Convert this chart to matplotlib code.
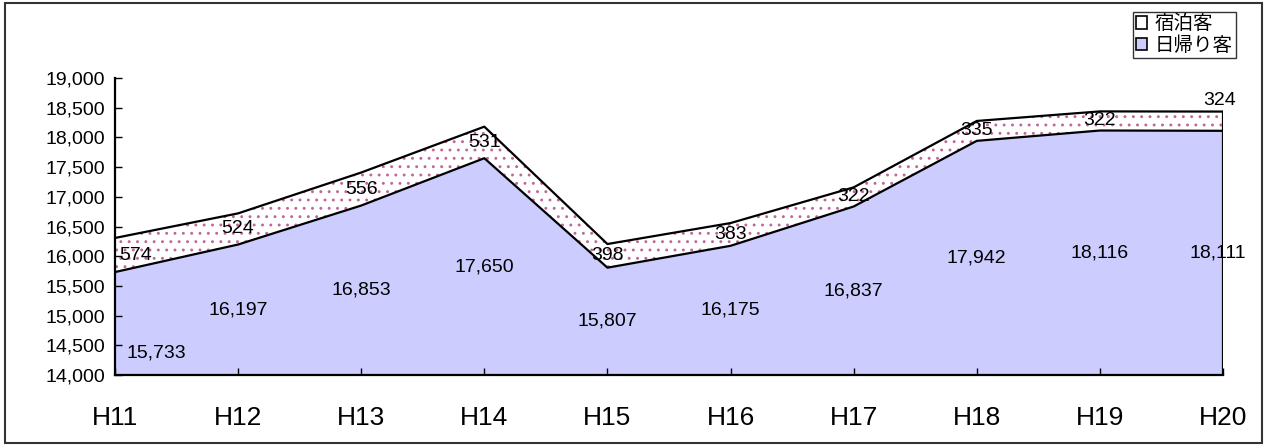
import matplotlib

matplotlib.use("Agg")
import matplotlib.pyplot as plt
from matplotlib.patches import Patch, Rectangle

plt.rcParams["font.family"] = ["Liberation Sans", "Noto Sans CJK JP", "DejaVu Sans"]
plt.rcParams["hatch.linewidth"] = 0.9

# 観光客数 (千人)
years = ["H11", "H12", "H13", "H14", "H15", "H16", "H17", "H18", "H19", "H20"]
day_trip = [15733, 16197, 16853, 17650, 15807, 16175, 16837, 17942, 18116, 18111]
overnight = [574, 524, 556, 531, 398, 383, 322, 335, 322, 324]
y_ticks = [14000, 14500, 15000, 15500, 16000, 16500, 17000, 17500, 18000, 18500, 19000]

y_min, y_max = 14000, 19000
x = list(range(len(years)))
total = [d + o for d, o in zip(day_trip, overnight)]

fig = plt.figure(figsize=(12.65, 4.45), dpi=100)
ax = fig.add_axes([0.0909, 0.1573, 0.8759, 0.6674])

# areas
ax.fill_between(x, y_min, day_trip, facecolor="#ccccff", edgecolor="none", zorder=1)
ax.fill_between(x, day_trip, total, facecolor="white", edgecolor="#c0679a",
                hatch="..", linewidth=0, zorder=1)
ax.plot(x, day_trip, color="black", lw=1.6, zorder=3)
ax.plot(x, total, color="black", lw=1.6, zorder=3)
ax.plot([x[-1], x[-1]], [y_min, total[-1]], color="black", lw=1.6, zorder=3)

# data labels (middle of each band; edge labels nudged as in the original)
day_offsets = {0: (41, -29), len(x) - 1: (-5, 0)}
stay_offsets = {0: (21, 0), len(x) - 1: (-3, 21)}
for i in x:
    dx, dy = day_offsets.get(i, (0, 0))
    ax.annotate(f"{day_trip[i]:,}", (i, (y_min + day_trip[i]) / 2), xytext=(dx, dy),
                textcoords="offset pixels", ha="center", va="center", fontsize=14,
                zorder=4)
    dx, dy = stay_offsets.get(i, (0, 0))
    ax.annotate(f"{overnight[i]:,}", (i, day_trip[i] + overnight[i] / 2), xytext=(dx, dy),
                textcoords="offset pixels", ha="center", va="center", fontsize=14,
                zorder=4)

ax.set_xlim(0, len(x) - 1)
ax.set_ylim(y_min, y_max)
ax.set_xticks(x)
ax.set_xticklabels(years, fontsize=19)
ax.set_yticks(y_ticks)
ax.set_yticklabels([f"{v:,}" for v in y_ticks], fontsize=14)
ax.tick_params(axis="both", direction="in", length=5, width=1, color="black")
ax.tick_params(axis="x", pad=22)
ax.tick_params(axis="y", pad=7)
for side in ("top", "right"):
    ax.spines[side].set_visible(False)
for side in ("left", "bottom"):
    ax.spines[side].set_linewidth(1.6)
    ax.spines[side].set_zorder(5)

handles = [
    Patch(facecolor="white", edgecolor="black", linewidth=1.2, label="宿泊客"),
    Patch(facecolor="#ccccff", edgecolor="black", linewidth=1.2, label="日帰り客"),
]
leg = fig.legend(handles=handles, loc="upper right", bbox_to_anchor=(1236 / 1265, 1 - 12 / 445),
                 fontsize=14, frameon=True, fancybox=False, handlelength=0.6,
                 handleheight=0.6, handletextpad=0.4, borderpad=0.15, labelspacing=0.15,
                 borderaxespad=0)
leg.get_frame().set_edgecolor("black")
leg.get_frame().set_linewidth(1.0)

# outer chart border
fig.patches.append(Rectangle((5 / 1265, 2 / 445), 1257 / 1265, 440 / 445,
                             transform=fig.transFigure, fill=False,
                             edgecolor="#333333", linewidth=1.5))

fig.savefig("out.png", dpi=100)
